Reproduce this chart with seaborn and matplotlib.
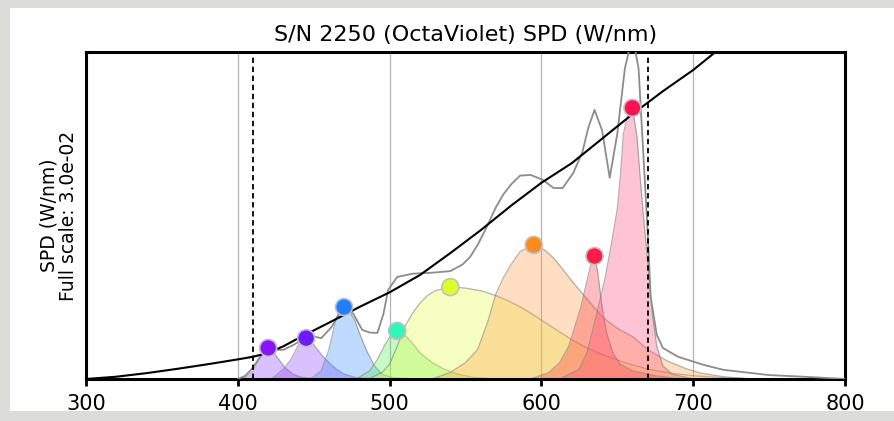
import numpy as np
import pandas as pd
import matplotlib
matplotlib.use("Agg")
import matplotlib.pyplot as plt
from matplotlib.patches import Rectangle
import seaborn as sns

# ── Data (y in units of full scale = 3.0e-02 W/nm) ────
black_wl = [300, 320, 340, 360, 380, 400, 410, 420, 430, 440, 460, 480, 500,
            520, 540, 560, 580, 600, 620, 640, 660, 680, 700, 720, 740]
black_val = [0.0, 0.007, 0.018, 0.031, 0.045, 0.06, 0.068, 0.08, 0.1, 0.125,
             0.172, 0.22, 0.265, 0.318, 0.385, 0.455, 0.53, 0.60, 0.66,
             0.735, 0.81, 0.88, 0.945, 1.02, 1.08]

gray_wl = [400, 405, 410, 415, 419, 424, 430, 437, 444, 450, 455, 462, 469,
           476, 482, 487, 492, 496, 499, 505, 515, 528, 540, 548, 553, 558,
           564, 570, 575, 580, 586, 593, 601, 608, 614, 621, 627, 631, 635,
           640, 645, 650, 655, 660, 664, 667, 670, 672, 676, 680, 690, 707,
           720, 750, 777, 800]
gray_val = [0.0, 0.01, 0.035, 0.07, 0.095, 0.09, 0.089, 0.105, 0.125, 0.13,
            0.125, 0.16, 0.22, 0.2, 0.15, 0.142, 0.141, 0.2, 0.272, 0.312,
            0.322, 0.325, 0.33, 0.35, 0.373, 0.41, 0.465, 0.525, 0.565, 0.595,
            0.622, 0.624, 0.609, 0.584, 0.584, 0.63, 0.694, 0.77, 0.823,
            0.76, 0.615, 0.75, 0.95, 1.05, 0.95, 0.70, 0.45, 0.25, 0.135,
            0.095, 0.068, 0.043, 0.028, 0.012, 0.006, 0.0]

led_names = ["420", "445", "470", "505", "540", "595", "635", "660"]
led_marker_colors = ["#8a14ff", "#6a1cff", "#2080ff", "#30f7b8",
                     "#dcff2a", "#ff8a1e", "#ff1a48", "#ff1050"]
led_fill_colors = ["#8a3cff", "#8a3cff", "#3a8cff", "#50f050",
                   "#e6ff40", "#ff9a40", "#ff3040", "#ff4a7a"]

led_wl = [
    [398, 405, 410, 414, 417, 420, 423, 427, 431, 436, 442, 452],
    [422, 430, 435, 440, 445, 450, 455, 460, 465, 470, 478, 492],
    [448, 455, 460, 464, 467, 470, 473, 477, 481, 485, 490, 495, 502, 515],
    [478, 487, 492, 497, 501, 505, 510, 515, 520, 528, 536, 545, 555, 570],
    [486, 495, 500, 505, 510, 515, 520, 525, 530, 540, 550, 560, 570, 580,
     590, 600, 610, 620, 630, 640, 655, 670, 685, 700, 720, 745],
    [528, 540, 550, 558, 565, 570, 575, 580, 586, 595, 602, 608, 615, 620,
     630, 640, 650, 660, 670, 683, 695, 705, 720, 738],
    [593, 605, 612, 618, 622, 626, 630, 633, 635, 637, 640, 643, 647, 652,
     660, 675, 692],
    [612, 625, 630, 636, 642, 646, 650, 652, 654, 657, 660, 663, 665, 667,
     670, 673, 676, 680, 686, 700],
]
led_val = [
    [0.0, 0.005, 0.025, 0.06, 0.085, 0.095, 0.085, 0.06, 0.035, 0.015, 0.005,
     0.0],
    [0.0, 0.03, 0.06, 0.105, 0.125, 0.105, 0.075, 0.05, 0.03, 0.015, 0.004,
     0.0],
    [0.0, 0.025, 0.09, 0.17, 0.21, 0.22, 0.21, 0.18, 0.13, 0.085, 0.04, 0.015,
     0.004, 0.0],
    [0.0, 0.025, 0.06, 0.105, 0.135, 0.147, 0.135, 0.11, 0.08, 0.05, 0.03,
     0.015, 0.005, 0.0],
    [0.0, 0.02, 0.045, 0.1, 0.16, 0.2, 0.232, 0.255, 0.27, 0.281, 0.278, 0.27,
     0.255, 0.235, 0.21, 0.18, 0.15, 0.12, 0.095, 0.075, 0.05, 0.03, 0.018,
     0.01, 0.004, 0.0],
    [0.0, 0.02, 0.05, 0.09, 0.18, 0.26, 0.31, 0.35, 0.39, 0.41, 0.395, 0.37,
     0.33, 0.3, 0.245, 0.19, 0.155, 0.13, 0.09, 0.055, 0.032, 0.018, 0.007,
     0.0],
    [0.0, 0.02, 0.05, 0.1, 0.16, 0.22, 0.3, 0.36, 0.376, 0.33, 0.22, 0.14,
     0.08, 0.045, 0.025, 0.01, 0.0],
    [0.0, 0.03, 0.08, 0.19, 0.31, 0.41, 0.52, 0.62, 0.75, 0.81, 0.829, 0.74,
     0.62, 0.51, 0.36, 0.2, 0.1, 0.04, 0.015, 0.0],
]

cutoff_wl = [410, 670]
grid_wl = [400, 500, 600, 700]
x_ticks = [300, 400, 500, 600, 700, 800]

# ── Figure ───────────────────────────────────────────────────────────────────
sns.set_theme(style="white")
plt.rcParams["font.family"] = ["DejaVu Sans"]
plt.rcParams["text.color"] = "black"
plt.rcParams["axes.labelcolor"] = "black"
plt.rcParams["xtick.color"] = "black"

fig = plt.figure(figsize=(8.94, 4.21), dpi=100, facecolor="#dcdcd8")
fig.patches.append(Rectangle((10 / 894, 10 / 421), 1, 1 - 18 / 421,
                             transform=fig.transFigure, facecolor="white",
                             edgecolor="none", zorder=-10))
ax = fig.add_axes([86 / 894, 1 - 379 / 421, 759 / 894, 327 / 421])
ax.set_zorder(5)

for g in grid_wl:
    ax.axvline(g, color="#b4b4b4", lw=0.9, zorder=1)

# LED components
peaks = []
for name, wl, val, fc in zip(led_names, led_wl, led_val, led_fill_colors):
    ax.fill_between(wl, val, 0, color=fc, alpha=0.32, lw=0, zorder=2)
    ax.plot(wl, val, color="#808080", lw=0.9, alpha=0.6, zorder=2)
    i = int(np.argmax(val))
    peaks.append({"led": name, "wl": wl[i], "val": val[i]})
df_peaks = pd.DataFrame(peaks)

df_gray = pd.DataFrame({"wl": gray_wl, "val": gray_val})
sns.lineplot(data=df_gray, x="wl", y="val", color="#8c8c8c", lw=1.3,
             ax=ax, zorder=3)
df_black = pd.DataFrame({"wl": black_wl, "val": black_val})
sns.lineplot(data=df_black, x="wl", y="val", color="black", lw=1.5,
             ax=ax, zorder=4)

for c in cutoff_wl:
    ax.axvline(c, color="black", ls=(0, (3, 2)), lw=1.3, zorder=4)

sns.scatterplot(data=df_peaks, x="wl", y="val", hue="led",
                palette=led_marker_colors, s=150, edgecolor="#c0c0c0",
                linewidth=1.2, legend=False, ax=ax, zorder=5)

ax.set_xlim(300, 800)
ax.set_ylim(0, 1)
ax.set_xticks(x_ticks)
ax.set_yticks([])
ax.tick_params(axis="x", direction="out", length=5, width=2,
               labelsize=15, pad=6, bottom=True, colors="black")
for s in ax.spines.values():
    s.set_color("black")
    s.set_linewidth(2.2)
ax.set_xlabel("")
ax.set_ylabel("SPD (W/nm)\nFull scale: 3.0e-02", fontsize=13.5,
              labelpad=6, linespacing=1.0, color="black")
ax.set_title("S/N 2250 (OctaViolet) SPD (W/nm)", fontsize=16, pad=8,
             color="black")

fig.savefig("out.png", dpi=100, facecolor=fig.get_facecolor())
